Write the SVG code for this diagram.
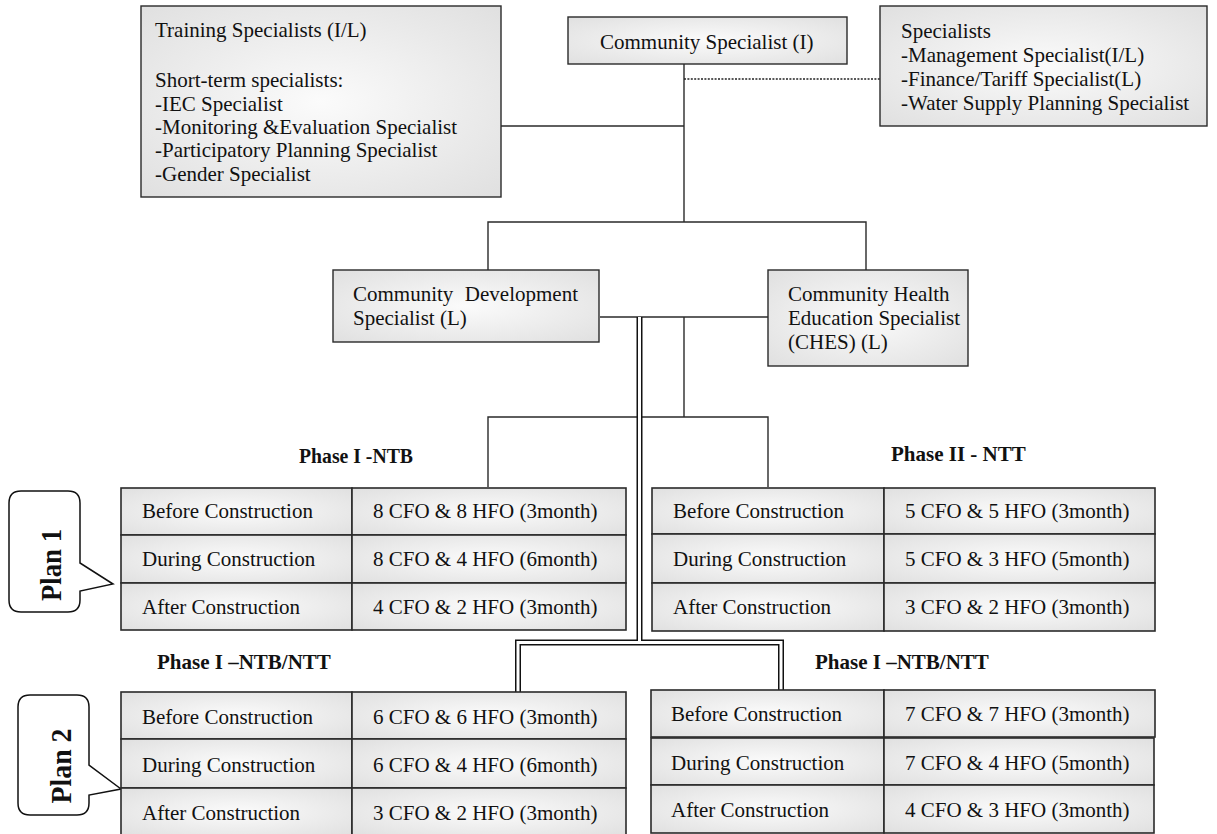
<svg xmlns="http://www.w3.org/2000/svg" width="1217" height="834" viewBox="0 0 1217 834">
<style>
text { font-family: 'Liberation Serif', 'Times New Roman', serif; font-size: 21px; fill: #111; }
.b { font-weight: bold; }
.box { fill: url(#g); stroke: #2a2a2a; stroke-width: 1.4; }
.cell { fill: url(#g); stroke: #2a2a2a; stroke-width: 1.6; }
.ln { fill: none; stroke: #2a2a2a; stroke-width: 1.4; }
.dot { fill: none; stroke: #222; stroke-width: 1.6; stroke-dasharray: 2 1.4; }
.dbk { fill: none; stroke: #111; stroke-width: 6; stroke-linejoin: miter; }
.dwh { fill: none; stroke: #fff; stroke-width: 3; stroke-linejoin: miter; }
.call { fill: #fff; stroke: #111; stroke-width: 1.5; }
.pl { font-weight: bold; font-size: 30px; }
</style>
<defs>
<radialGradient id="g" cx="50%" cy="50%" r="75%">
<stop offset="0%" stop-color="#fbfbfb"/>
<stop offset="100%" stop-color="#dedede"/>
</radialGradient>
</defs>
<rect width="1217" height="834" fill="#fff"/>

<g id="connectors">
<path class="ln" d="M684,64 V222"/>
<path class="ln" d="M501,126 H684"/>
<path class="dot" d="M684,79 H880"/>
<path class="ln" d="M488,270 V222 H866 V270"/>
<path class="ln" d="M600,317 H768"/>
<path class="ln" d="M684,317 V417"/>
<path class="ln" d="M488,487 V417 H768 V487"/>
<path class="dbk" d="M639.5,317 V642.5"/>
<path class="dbk" d="M518,692 V642.5 H781 V690"/>
<path class="dwh" d="M639.5,317 V642.5"/>
<path class="dwh" d="M518,692 V642.5 H781 V690"/>
</g>

<g id="training">
<rect class="box" x="141" y="6" width="360" height="191"/>
<text x="155" y="37">Training Specialists (I/L)</text>
<text x="155" y="87">Short-term specialists:</text>
<text x="155" y="110.5">-IEC Specialist</text>
<text x="155" y="134">-Monitoring &amp;Evaluation Specialist</text>
<text x="155" y="157">-Participatory Planning Specialist</text>
<text x="155" y="180.5">-Gender Specialist</text>
</g>

<g id="community-specialist">
<rect class="box" x="568" y="17" width="279" height="47"/>
<text x="600" y="49">Community Specialist (I)</text>
</g>

<g id="specialists">
<rect class="box" x="880" y="6" width="327" height="120"/>
<text x="901" y="38">Specialists</text>
<text x="901" y="62">-Management Specialist(I/L)</text>
<text x="901" y="86">-Finance/Tariff Specialist(L)</text>
<text x="901" y="110">-Water Supply Planning Specialist</text>
</g>

<g id="cd-specialist">
<rect class="box" x="333" y="270" width="266" height="72"/>
<text x="353" y="301">Community</text>
<text x="578" y="301" text-anchor="end">Development</text>
<text x="353" y="325">Specialist (L)</text>
</g>

<g id="ches">
<rect class="box" x="768" y="270" width="200" height="96"/>
<text x="788" y="301">Community Health</text>
<text x="788" y="325">Education Specialist</text>
<text x="788" y="349">(CHES) (L)</text>
</g>

<g id="plan1">
<path class="call" d="M21,491 H68 Q80,491 80,503 V563 L113,584 L80,591 V600 Q80,612 68,612 H21 Q9,612 9,600 V503 Q9,491 21,491 Z"/>
<text class="pl" transform="translate(61,565) rotate(-90)" text-anchor="middle" textLength="72" lengthAdjust="spacingAndGlyphs">Plan 1</text>
</g>

<g id="plan2">
<path class="call" d="M30,695 H77 Q89,695 89,707 V765 L121,789 L89,795 V803 Q89,815 77,815 H30 Q18,815 18,803 V707 Q18,695 30,695 Z"/>
<text class="pl" transform="translate(71,766) rotate(-90)" text-anchor="middle" textLength="75" lengthAdjust="spacingAndGlyphs">Plan 2</text>
</g>

<g id="phase1-ntb">
<text class="b" x="299" y="463" textLength="114" lengthAdjust="spacingAndGlyphs">Phase I -NTB</text>
<rect class="cell" x="121" y="488" width="231" height="47"/>
<rect class="cell" x="352" y="488" width="274" height="47"/>
<rect class="cell" x="121" y="535" width="231" height="48"/>
<rect class="cell" x="352" y="535" width="274" height="48"/>
<rect class="cell" x="121" y="583" width="231" height="47"/>
<rect class="cell" x="352" y="583" width="274" height="47"/>
<text x="142" y="518">Before Construction</text>
<text x="373" y="518">8 CFO &amp; 8 HFO (3month)</text>
<text x="142" y="566">During Construction</text>
<text x="373" y="566">8 CFO &amp; 4 HFO (6month)</text>
<text x="142" y="614">After Construction</text>
<text x="373" y="614">4 CFO &amp; 2 HFO (3month)</text>
</g>

<g id="phase2-ntt">
<text class="b" x="891" y="461">Phase II - NTT</text>
<rect class="cell" x="652" y="488" width="232" height="46"/>
<rect class="cell" x="884" y="488" width="271" height="46"/>
<rect class="cell" x="652" y="534" width="232" height="49"/>
<rect class="cell" x="884" y="534" width="271" height="49"/>
<rect class="cell" x="652" y="583" width="232" height="48"/>
<rect class="cell" x="884" y="583" width="271" height="48"/>
<text x="673" y="518">Before Construction</text>
<text x="905" y="518">5 CFO &amp; 5 HFO (3month)</text>
<text x="673" y="566">During Construction</text>
<text x="905" y="566">5 CFO &amp; 3 HFO (5month)</text>
<text x="673" y="614">After Construction</text>
<text x="905" y="614">3 CFO &amp; 2 HFO (3month)</text>
</g>

<g id="plan2-left">
<text class="b" x="157" y="669">Phase I –NTB/NTT</text>
<rect class="cell" x="121" y="692" width="231" height="47"/>
<rect class="cell" x="352" y="692" width="274" height="47"/>
<rect class="cell" x="121" y="739" width="231" height="49"/>
<rect class="cell" x="352" y="739" width="274" height="49"/>
<rect class="cell" x="121" y="788" width="231" height="48"/>
<rect class="cell" x="352" y="788" width="274" height="48"/>
<text x="142" y="724">Before Construction</text>
<text x="373" y="724">6 CFO &amp; 6 HFO (3month)</text>
<text x="142" y="772">During Construction</text>
<text x="373" y="772">6 CFO &amp; 4 HFO (6month)</text>
<text x="142" y="820">After Construction</text>
<text x="373" y="820">3 CFO &amp; 2 HFO (3month)</text>
</g>

<g id="plan2-right">
<text class="b" x="815" y="669">Phase I –NTB/NTT</text>
<rect class="cell" x="651" y="690" width="233" height="47"/>
<rect class="cell" x="884" y="690" width="271" height="47"/>
<rect class="cell" x="651" y="738" width="233" height="47"/>
<rect class="cell" x="884" y="738" width="270" height="47"/>
<rect class="cell" x="651" y="785" width="233" height="48"/>
<rect class="cell" x="884" y="785" width="270" height="48"/>
<text x="671" y="721">Before Construction</text>
<text x="905" y="721">7 CFO &amp; 7 HFO (3month)</text>
<text x="671" y="770">During Construction</text>
<text x="905" y="770">7 CFO &amp; 4 HFO (5month)</text>
<text x="671" y="817">After Construction</text>
<text x="905" y="817">4 CFO &amp; 3 HFO (3month)</text>
</g>
</svg>
